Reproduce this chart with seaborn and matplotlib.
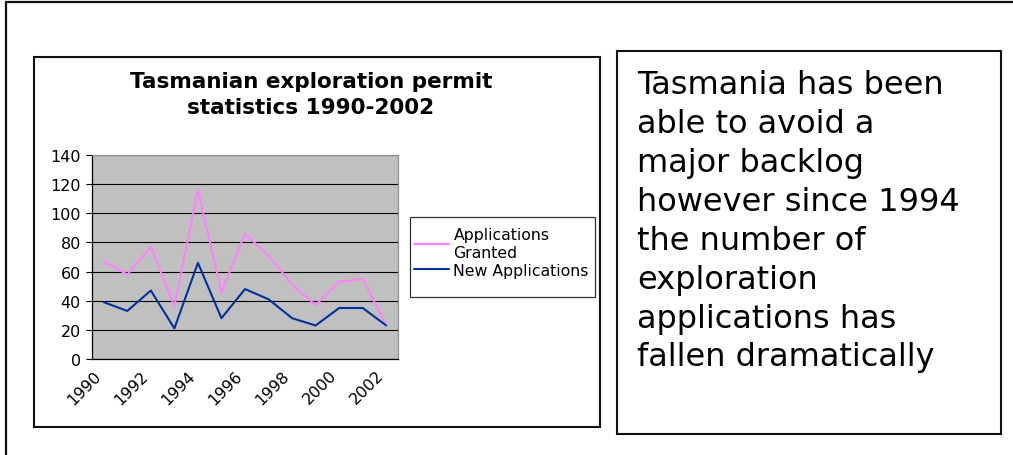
import matplotlib
matplotlib.use("Agg")
import matplotlib.pyplot as plt
from matplotlib.patches import Rectangle
from matplotlib.lines import Line2D
import numpy as np
import pandas as pd
import seaborn as sns

years = list(range(1990, 2003))
granted = [67, 58, 77, 36, 116, 46, 86, 71, 51, 37, 53, 55, 23]
new_apps = [39, 33, 47, 21, 66, 28, 48, 41, 28, 23, 35, 35, 23]
series_names = ["Applications\nGranted", "New Applications"]
series_colors = ["#FF80FF", "#003399"]
yticks = [0, 20, 40, 60, 80, 100, 120, 140]

note_lines = ["Tasmania has been", "able to avoid a", "major backlog",
              "however since 1994", "the number of", "exploration",
              "applications has", "fallen dramatically"]

W, H = 1013, 456

def fx(x):
    return x / W

def fy(y):
    return 1 - y / H

sns.set_style("white")
plt.rcParams["font.family"] = ["DejaVu Sans"]
plt.rcParams["text.color"] = "black"
plt.rcParams["xtick.color"] = "black"
plt.rcParams["ytick.color"] = "black"

fig = plt.figure(figsize=(W / 100, H / 100), dpi=100)
fig.patch.set_facecolor("white")

# frames
fig.add_artist(Line2D([fx(6), fx(6)], [fy(3), 0], color="#111111", lw=1.6))
fig.add_artist(Line2D([fx(6), 1], [fy(3), fy(3)], color="#111111", lw=1.6))
fig.add_artist(Rectangle((fx(34), fy(428)), fx(600) - fx(34), fy(58) - fy(428),
                         fill=False, ec="#111111", lw=1.5))
fig.add_artist(Rectangle((fx(617), fy(435)), fx(1001) - fx(617), fy(52) - fy(435),
                         fill=False, ec="#111111", lw=1.5))

ax = fig.add_axes([fx(92), fy(360), fx(398) - fx(92), fy(156) - fy(360)])
ax.set_facecolor("#C0C0C0")

x = np.arange(len(years))
df = pd.DataFrame({
    "x": np.concatenate([x, x]),
    "value": granted + new_apps,
    "series": [series_names[0]] * len(x) + [series_names[1]] * len(x),
})
sns.lineplot(data=df, x="x", y="value", hue="series", palette=series_colors,
             linewidth=1.5, legend=False, ax=ax)

ax.set_xlim(-0.5, len(years) - 0.5)
ax.set_ylim(0, 140)
ax.set_yticks(yticks)
ax.set_yticklabels([str(v) for v in yticks], fontsize=11.5)
ax.yaxis.grid(True, color="black", lw=0.8)
ax.set_axisbelow(True)

# category boundaries get the tick marks, labels sit slightly left of centre
ax.xaxis.remove_overlapping_locs = False
ax.set_xticks(np.arange(-0.5, len(years)), minor=True)
ax.set_xticks(x[::2] - 0.45)
ax.set_xticklabels([str(y) for y in years[::2]], rotation=45, ha="right",
                   va="top", rotation_mode="anchor", fontsize=11.5)
ax.tick_params(axis="x", which="major", length=0, pad=6)
ax.tick_params(axis="x", which="minor", length=4, color="black", direction="out")
ax.tick_params(axis="y", length=4, color="black", direction="out", pad=4,
               left=True)
ax.set_xlabel("")
ax.set_ylabel("")
for s in ["left", "bottom"]:
    ax.spines[s].set_color("black")
    ax.spines[s].set_linewidth(0.9)
for s in ["top", "right"]:
    ax.spines[s].set_color("#909090")
    ax.spines[s].set_linewidth(0.9)

fig.text(fx(311), fy(95), "Tasmanian exploration permit\nstatistics 1990-2002",
         ha="center", va="center", fontsize=15.5, fontweight="bold",
         linespacing=1.35)

# legend
fig.add_artist(Rectangle((fx(410), fy(298)), fx(595) - fx(410), fy(218) - fy(298),
                         fill=False, ec="#333333", lw=0.9))
handles = [Line2D([0], [0], color=c, lw=1.5) for c in series_colors]
fig.legend(handles, series_names, loc="upper left",
           bbox_to_anchor=(fx(411), fy(225)), frameon=False, fontsize=11.3,
           handlelength=2.2, handletextpad=0.3, labelspacing=0.2,
           borderpad=0.2, borderaxespad=0)

fig.text(fx(637), fy(70), "\n".join(note_lines), ha="left", va="top",
         fontsize=23, linespacing=1.33)

fig.savefig("out.png", dpi=100)
